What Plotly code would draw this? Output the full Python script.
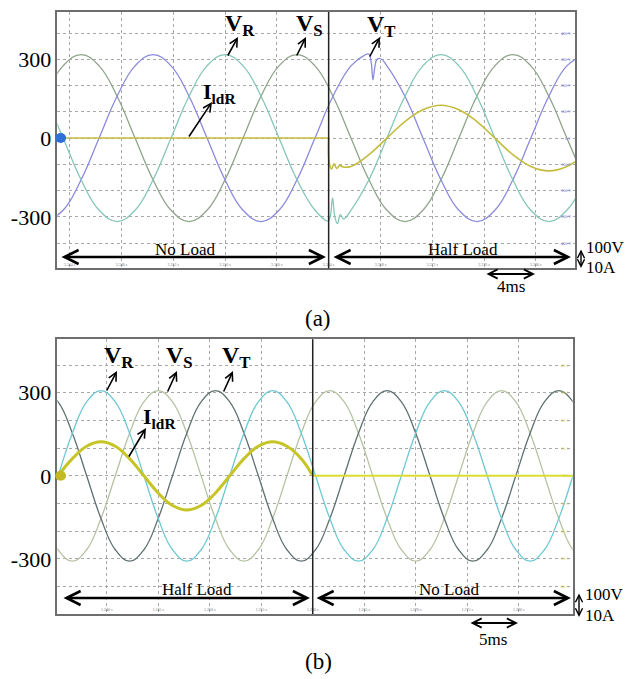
import plotly.graph_objects as go

SERIF = "Liberation Serif"
W, H = 636, 679

# ---------------- Panel (a): No Load -> Half Load (time in ms, 4 ms/div) ----------------
t_a = [-1.889, -0.500, 0.889, 2.278, 3.667, 5.056, 6.444, 7.833, 9.222, 10.611,
       12.000, 13.389, 14.778, 16.167, 17.556, 18.944, 20.333, 21.722, 23.111, 24.500,
       25.889, 27.278, 28.667, 30.056, 31.444, 32.833, 34.222, 35.611, 37.000, 38.389, 39.778]
vr_a = [159, 0, -159, -275, -318, -275, -159, 0, 159, 275,
        318, 275, 159, 0, -159, -275, -318, -275, -159, 0,
        159, 275, 318, 275, 159, 0, -159, -275, -318, -275, -159]
vs_a = [159, 275, 318, 275, 159, 0, -159, -275, -318, -275,
        -159, 0, 159, 275, 318, 275, 159, 0, -159, -275,
        -318, -275, -159, 0, 159, 275, 318, 275, 159, 0, -159]
vt_a = [-318, -275, -159, 0, 159, 275, 318, 275, 159, 0,
        -159, -275, -318, -275, -159, 0, 159, 275, 318, 275,
        159, 0, -159, -275, -318, -275, -159, 0, 159, 275, 318]
# transient detail read around the load step
vr_a_notch_t = [19.95, 20.12, 20.30, 20.48, 20.68, 20.90, 21.15]
vr_a_notch_v = [-316, -300, -228, -300, -326, -292, -308]
vt_a_notch_t = [22.75, 23.10, 23.28, 23.42, 23.56, 23.74, 24.02]
vt_a_notch_v = [315, 320, 290, 222, 268, 300, 302]
ild_a_pre_t = [-1.889, 20.0]
ild_a_pre_v = [0, 0]
ild_a_t = [20.0, 20.04, 20.22, 20.42, 20.62, 20.85, 21.12, 21.722, 23.111, 24.500, 25.889,
           27.278, 28.667, 30.056, 31.444, 32.833, 34.222, 35.611, 37.000, 38.389, 39.778]
ild_a_v = [0, -92, -118, -98, -116, -104, -110, -108, -63, 0, 63,
           108, 125, 108, 63, 0, -63, -108, -125, -108, -63]
step_a = 20.0
ticks_a = [0, 4, 8, 12, 16, 20, 24, 28, 32, 36]
ticklab_a = ["3.344 s", "3.348 s", "3.352 s", "3.356 s", "3.360 s",
             "3.364 s", "3.368 s", "3.372 s", "3.376 s", "3.380 s"]
rlab_a = ["400 V", "300 V", "200 V", "100 V", "0 V", "-100 V", "-200 V", "-300 V", "-400 V"]

# ---------------- Panel (b): Half Load -> No Load (time in ms, 5 ms/div) ----------------
t_b = [-1.116, 0.273, 1.662, 3.051, 4.440, 5.829, 7.218, 8.607, 9.996, 11.384,
       12.773, 14.162, 15.551, 16.940, 18.329, 19.718, 21.107, 22.496, 23.884, 25.273,
       26.662, 28.051, 29.440, 30.829, 32.218, 33.607, 34.996, 36.384, 37.773, 39.162,
       40.551, 41.940, 43.329, 44.718, 46.107, 47.496, 48.884, 50.273, 51.662]
vr_b = [-154, 0, 154, 267, 308, 267, 154, 0, -154, -267,
        -308, -267, -154, 0, 154, 267, 308, 267, 154, 0,
        -154, -267, -308, -267, -154, 0, 154, 267, 308, 267,
        154, 0, -154, -267, -308, -267, -154, 0, 154]
vs_b = [-154, -267, -308, -267, -154, 0, 154, 267, 308, 267,
        154, 0, -154, -267, -308, -267, -154, 0, 154, 267,
        308, 267, 154, 0, -154, -267, -308, -267, -154, 0,
        154, 267, 308, 267, 154, 0, -154, -267, -308]
vt_b = [308, 267, 154, 0, -154, -267, -308, -267, -154, 0,
        154, 267, 308, 267, 154, 0, -154, -267, -308, -267,
        -154, 0, 154, 267, 308, 267, 154, 0, -154, -267,
        -308, -267, -154, 0, 154, 267, 308, 267, 154]
ild_b_t = [0.273, 1.662, 3.051, 4.440, 5.829, 7.218, 8.607, 9.996, 11.384, 12.773,
           14.162, 15.551, 16.940, 18.329, 19.718, 21.107, 22.496, 23.884, 25.0]
ild_b_v = [0, 62, 107, 123, 107, 62, 0, -62, -107, -123,
           -107, -62, 0, 62, 107, 123, 107, 62, 0]
ild_b_post_t = [25.0, 51.662]
ild_b_post_v = [0, 0]
step_b = 25.0
ticks_b = [5, 10, 15, 20, 25, 30, 35, 40, 45]
ticklab_b = ["1.240 s", "1.245 s", "1.250 s", "1.255 s", "1.260 s",
             "1.265 s", "1.270 s", "1.275 s", "1.280 s"]
rlab_b = ["40 A", "30 A", "20 A", "10 A", "0 A", "-10 A", "-20 A", "-30 A", "-40 A"]
rvals = [400, 300, 200, 100, 0, -100, -200, -300, -400]


def merge(t, v, tt, tv):
    lo, hi = min(tt), max(tt)
    pts = [(a, b) for a, b in zip(t, v) if a < lo or a > hi] + list(zip(tt, tv))
    pts.sort()
    return [p[0] for p in pts], [p[1] for p in pts]


def px(x):
    return x / W


def py(y):
    return 1 - y / H


fig = go.Figure()


def line(x, y, color, width, xa, ya, shape="spline"):
    fig.add_trace(go.Scatter(x=x, y=y, mode="lines", xaxis=xa, yaxis=ya,
                             line=dict(color=color, width=width, shape=shape, smoothing=1.2),
                             hoverinfo="skip", showlegend=False))


# panel (a) traces
tr, vr = merge(t_a, vr_a, vr_a_notch_t, vr_a_notch_v)
tt, vt = merge(t_a, vt_a, vt_a_notch_t, vt_a_notch_v)
line(t_a, vs_a, "#8ea48a", 1.3, "x", "y")
line(tt, vt, "#8a8ade", 1.3, "x", "y")
line(tr, vr, "#86c6b8", 1.3, "x", "y")
line(ild_a_pre_t, ild_a_pre_v, "#c4bc3c", 1.6, "x", "y", shape="linear")
line(ild_a_t, ild_a_v, "#c4bc3c", 1.6, "x", "y")

# panel (b) traces
line(t_b, vs_b, "#b6c2a2", 1.3, "x2", "y2")
line(t_b, vt_b, "#5e7070", 1.3, "x2", "y2")
line(t_b, vr_b, "#6ec8d2", 1.3, "x2", "y2")
line(ild_b_t, ild_b_v, "#c6c426", 3.0, "x2", "y2")
line(ild_b_post_t, ild_b_post_v, "#dcdc30", 2.0, "x2", "y2", shape="linear")

GRID = "#a8a8a8"
FRAME = "#6e6e6e"


def xax(domain, rng, tv, tt_, anchor):
    return dict(domain=domain, range=rng, anchor=anchor, tickvals=tv, ticktext=tt_,
                ticks="", showgrid=True, gridcolor=GRID, griddash="dot", gridwidth=1,
                showline=True, mirror=True, linecolor=FRAME, linewidth=1.5, zeroline=False,
                ticklabelposition="inside", tickfont=dict(family=SERIF, size=4, color="#777777"),
                fixedrange=True)


def yax(domain, rng, anchor):
    return dict(domain=domain, range=rng, anchor=anchor, tickvals=[-300, 0, 300],
                ticktext=["-300", "0", "300"], ticks="", showgrid=True, gridcolor=GRID,
                griddash="dot", gridwidth=1,
                minor=dict(dtick=100, tick0=0, showgrid=True, gridcolor=GRID, griddash="dot", gridwidth=1),
                showline=True, mirror=True, linecolor=FRAME, linewidth=1.5, zeroline=False,
                tickfont=dict(family=SERIF, size=22, color="black"), fixedrange=True)


fig.update_layout(
    width=W, height=H, margin=dict(l=0, r=0, t=0, b=0),
    paper_bgcolor="white", plot_bgcolor="white", showlegend=False,
    font=dict(family=SERIF),
    xaxis=xax([57.3 / W, 575 / W], [-0.95, 39.02], ticks_a, ticklab_a, "y"),
    yaxis=yax([1 - 268.3 / H, 1 - 12 / H], [-496, 480], "x"),
    xaxis2=xax([57.3 / W, 572.7 / W], [0.2, 50.24], ticks_b, ticklab_b, "y2"),
    yaxis2=yax([1 - 614 / H, 1 - 339.3 / H], [-499, 493], "x2"),
)

shapes = [
    dict(type="line", xref="x", yref="y domain", x0=step_a, x1=step_a, y0=0, y1=1,
         line=dict(color="#222222", width=1.5)),
    dict(type="line", xref="x2", yref="y2 domain", x0=step_b, x1=step_b, y0=0, y1=1,
         line=dict(color="#222222", width=1.5)),
    dict(type="circle", xref="x domain", yref="y", x0=-0.004, x1=0.017, y0=-19, y1=19,
         fillcolor="#2f6fd8", line=dict(width=0)),
    dict(type="circle", xref="x2 domain", yref="y2", x0=-0.004, x1=0.017, y0=-18, y1=18,
         fillcolor="#c2ba22", line=dict(width=0)),
]
fig.update_layout(shapes=shapes)

ann = []


def label(x, y, text, size, color="black", xanchor="center"):
    ann.append(dict(x=px(x), y=py(y), xref="paper", yref="paper", text=text, showarrow=False,
                    font=dict(family=SERIF, size=size, color=color), xanchor=xanchor,
                    yanchor="middle"))


def arrow(x0, y0, x1, y1, both=False, width=1.6, head=5, size=1.0):
    ann.append(dict(x=px(x1), y=py(y1), xref="paper", yref="paper", ax=x0 - x1, ay=y0 - y1,
                    axref="pixel", ayref="pixel", text="", showarrow=True, arrowhead=head,
                    startarrowhead=head, arrowside="end+start" if both else "end",
                    arrowwidth=width, arrowcolor="black", arrowsize=size, startarrowsize=size,
                    standoff=0, startstandoff=0))


# panel (a) labels
label(240, 25, "<b>V<sub>R</sub></b>", 24)
arrow(227, 57, 238, 37)
label(309, 25, "<b>V<sub>S</sub></b>", 24)
arrow(296, 57, 306, 37)
label(381, 26, "<b>V<sub>T</sub></b>", 24)
arrow(369, 58, 380, 37)
label(219, 93, "<b>I<sub>ldR</sub></b>", 22)
arrow(188, 138, 212, 102)
label(185, 249, "No Load", 17)
label(463, 249, "Half Load", 17)
arrow(60, 257, 326, 257, both=True, width=2.3, size=1.2)
arrow(332, 257, 571, 257, both=True, width=2.3, size=1.2)
arrow(581, 248, 581, 268, both=True, width=1.4, size=1.0)
label(584, 247, "100V", 17, xanchor="left")
label(584, 268, "10A", 17, xanchor="left")
arrow(485, 274, 535, 274, both=True, width=1.8, size=1.0)
label(511, 286, "4ms", 17)
label(318, 318, "(a)", 23)

# panel (b) labels
label(119, 357, "<b>V<sub>R</sub></b>", 24)
arrow(106, 392, 117, 371)
label(179, 357, "<b>V<sub>S</sub></b>", 24)
arrow(167, 393, 177, 371)
label(237, 357, "<b>V<sub>T</sub></b>", 24)
arrow(223, 393, 233, 371)
label(159, 418, "<b>I<sub>ldR</sub></b>", 22)
arrow(128, 458, 146, 428)
label(197, 589, "Half Load", 17)
label(449, 589, "No Load", 17)
arrow(62, 598, 310, 598, both=True, width=2.3, size=1.2)
arrow(315, 598, 571, 598, both=True, width=2.3, size=1.2)
arrow(579, 592, 579, 617, both=True, width=1.4, size=1.0)
label(583, 594, "100V", 17, xanchor="left")
label(583, 615, "10A", 17, xanchor="left")
arrow(469, 623, 518, 623, both=True, width=1.8, size=1.0)
label(493, 639, "5ms", 17)
label(318, 661, "(b)", 23)

# tiny oscilloscope scale labels at the right edge
for v, s in zip(rvals, rlab_a):
    ann.append(dict(x=0.997, y=v, xref="x domain", yref="y", text=s, showarrow=False,
                    font=dict(family=SERIF, size=4, color="#6f7ee0"), xanchor="right", yanchor="middle"))
for v, s in zip(rvals, rlab_b):
    ann.append(dict(x=0.997, y=v, xref="x2 domain", yref="y2", text=s, showarrow=False,
                    font=dict(family=SERIF, size=4, color="#d2d24a"), xanchor="right", yanchor="middle"))

fig.update_layout(annotations=ann)
fig.write_html("out.html")
